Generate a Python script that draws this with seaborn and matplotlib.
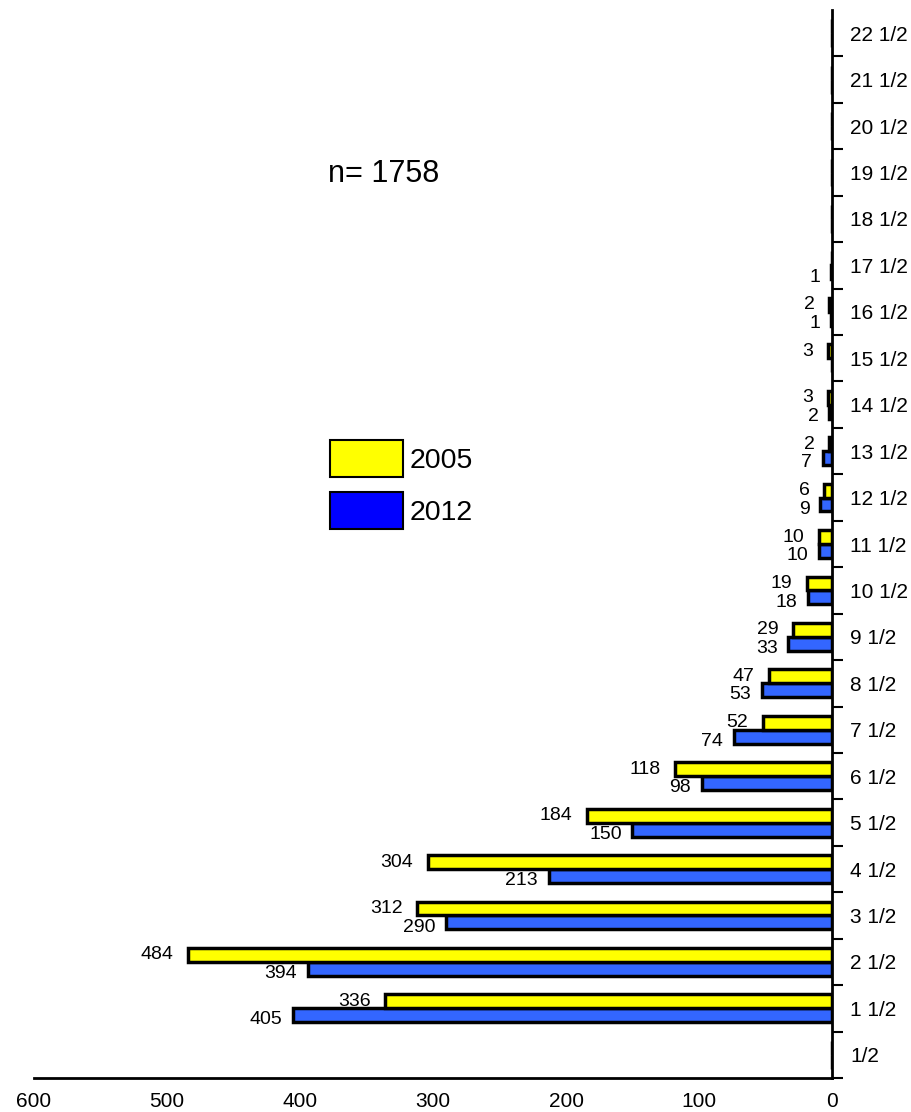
import pandas as pd
import matplotlib
matplotlib.use('Agg')
import matplotlib.pyplot as plt
import matplotlib.patches as mpatches
import seaborn as sns

# categories, bottom to top
cats = ['1/2'] + [f'{i} 1/2' for i in range(1, 23)]
vals_2005 = [0, 336, 484, 312, 304, 184, 118, 52, 47, 29, 19, 10, 6, 2, 3, 3, 2, 0, 0, 0, 0, 0, 0]
vals_2012 = [0, 405, 394, 290, 213, 150, 98, 74, 53, 33, 18, 10, 9, 7, 2, 0, 1, 1, 0, 0, 0, 0, 0]
years = ['2005', '2012']
col_2005 = '#FFFF00'
col_2012 = '#3366FF'
col_legend_2012 = '#0000FF'
n_total = 1758

df = pd.DataFrame({
    'cat': cats * 2,
    'count': vals_2005 + vals_2012,
    'year': ['2005'] * len(cats) + ['2012'] * len(cats),
})

sns.set_style('white')
plt.rcParams['font.family'] = ['Liberation Sans', 'DejaVu Sans']
plt.rcParams['text.color'] = 'black'
plt.rcParams['xtick.color'] = 'black'
plt.rcParams['ytick.color'] = 'black'

fig = plt.figure(figsize=(9.12, 11.12), dpi=100)
ax = fig.add_axes([34 / 912, 1 - 1078 / 1112, (832 - 34) / 912, 1068 / 1112])

sns.barplot(data=df, x='count', y='cat', hue='year', order=cats,
            hue_order=['2012', '2005'], palette={'2005': col_2005, '2012': col_2012},
            saturation=1, orient='h', width=0.6, edgecolor='black', linewidth=2.5,
            legend=False, ax=ax)

ax.set_xlim(600, 0)
ax.set_ylim(-0.5, len(cats) - 0.5)
ax.set_xlabel('')
ax.set_ylabel('')

# value labels
for i, (a, b) in enumerate(zip(vals_2005, vals_2012)):
    if a > 0:
        ax.text(a + 11, i + 0.15, str(a), ha='right', va='center', fontsize=14)
    if b > 0:
        ax.text(b + 8, i - 0.25, str(b), ha='right', va='center', fontsize=14)

# axes styling
for s in ['left', 'top']:
    ax.spines[s].set_visible(False)
for s in ['right', 'bottom']:
    ax.spines[s].set_visible(True)
    ax.spines[s].set_linewidth(2)
    ax.spines[s].set_color('black')

ax.yaxis.tick_right()
ax.set_yticks(range(len(cats)))
ax.set_yticklabels(cats)
ax.set_yticks([i - 0.5 for i in range(len(cats))], minor=True)
ax.tick_params(axis='y', which='major', length=0, pad=13, labelsize=15)
ax.tick_params(axis='y', which='minor', length=8, width=1.5, direction='out', right=True, left=False)
ax.set_xticks([600, 500, 400, 300, 200, 100, 0])
ax.tick_params(axis='x', which='major', length=9, width=1.5, direction='out', labelsize=15, pad=1)

fig.text(328 / 912, 1 - 174 / 1112, f'n= {n_total}', fontsize=22, ha='left', va='center')

handles = [mpatches.Patch(facecolor=col_2005, edgecolor='black', linewidth=1.5, label=years[0]),
           mpatches.Patch(facecolor=col_legend_2012, edgecolor='black', linewidth=1.5, label=years[1])]
fig.legend(handles=handles, loc='upper left', bbox_to_anchor=(330 / 912, 1 - 440 / 1112),
           frameon=False, fontsize=20.5, handlelength=2.55, handleheight=1.62,
           handletextpad=0.25, labelspacing=0.52, borderpad=0, borderaxespad=0)

fig.savefig('out.png', dpi=100)
